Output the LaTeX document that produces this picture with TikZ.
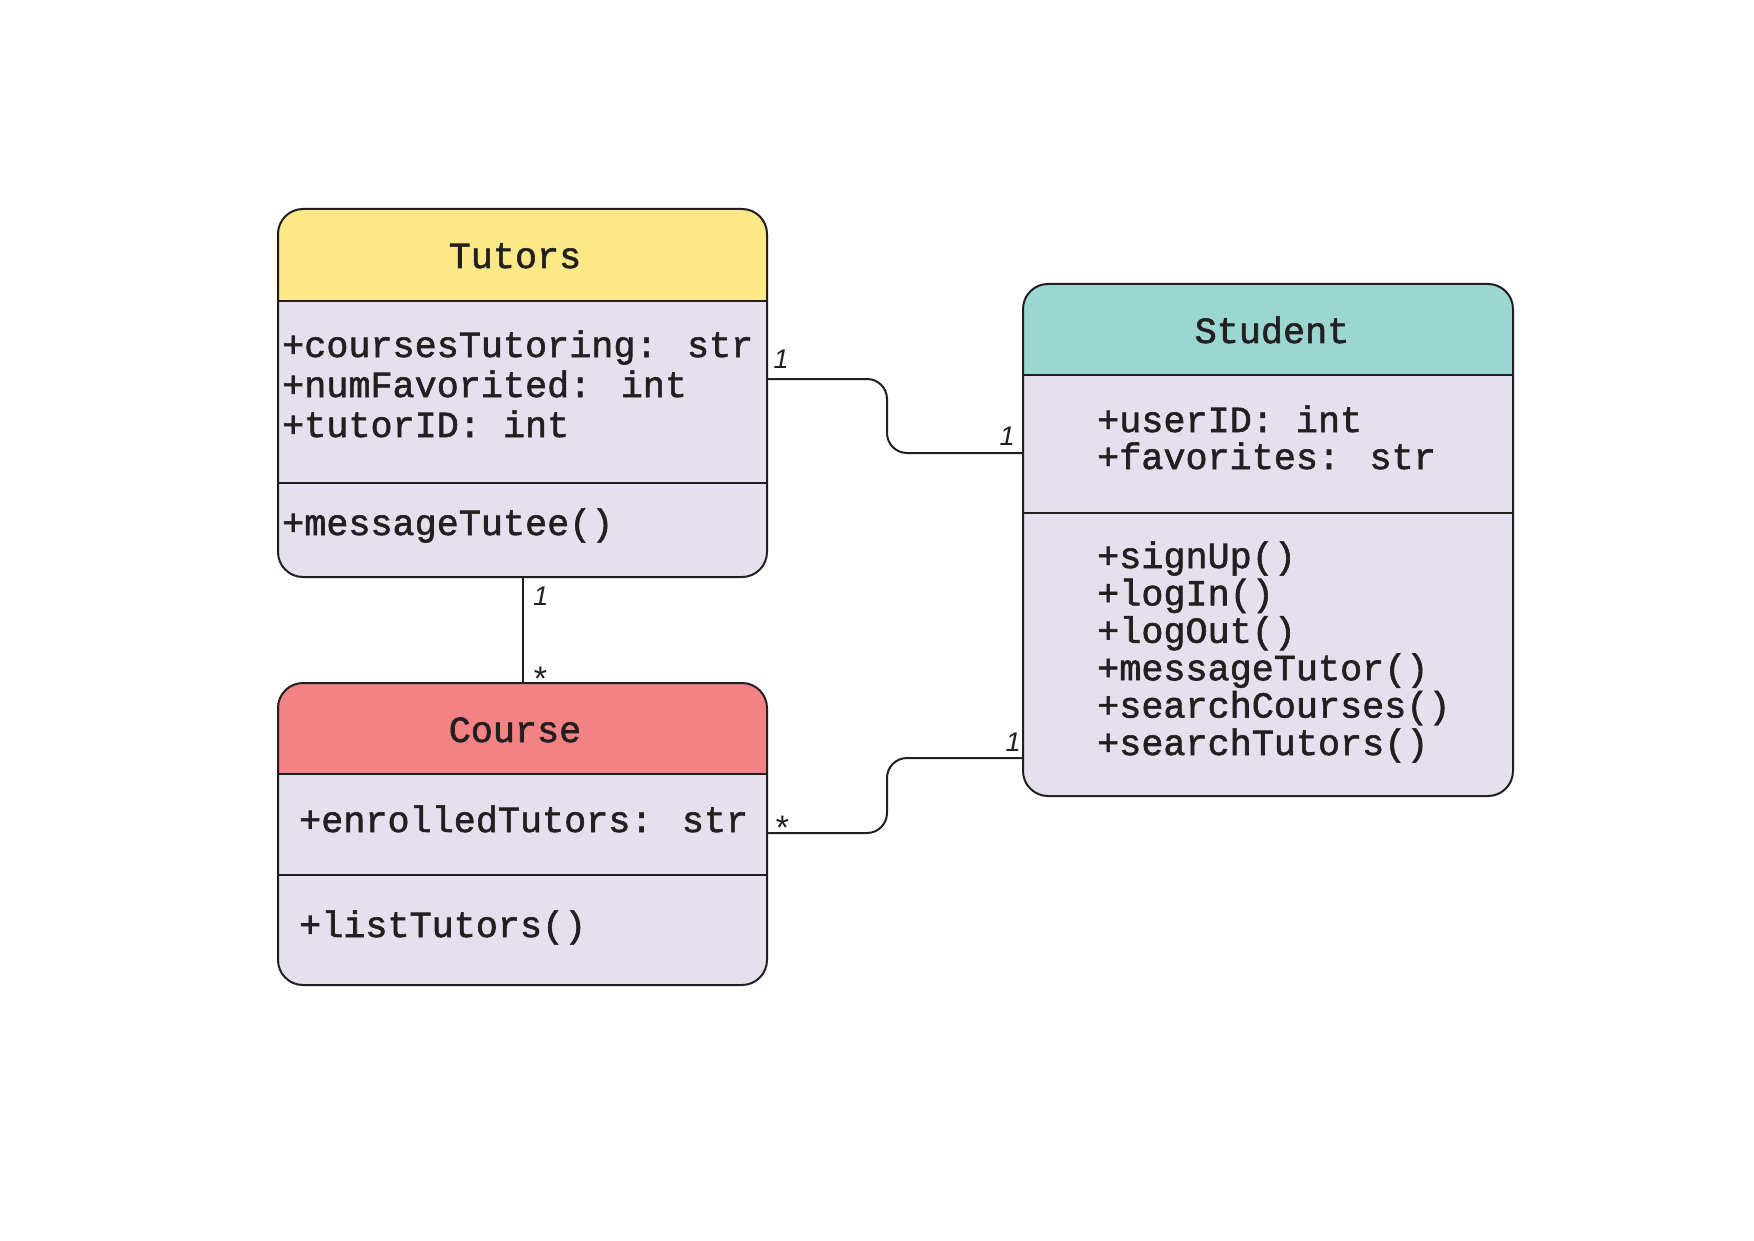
\documentclass[tikz,border=0pt]{standalone}
\usepackage{fontspec}
\newfontfamily\classfont{Liberation Mono}[RawFeature={embolden=1.6}]
\newfontfamily\labelfont{Liberation Sans}
\usetikzlibrary{positioning}
\definecolor{inkgrey}{HTML}{231F20}
\definecolor{bodylilac}{HTML}{E6DFED}
\definecolor{tutorsyellow}{HTML}{FAE986}
\definecolor{studentteal}{HTML}{9AD7D1}
\definecolor{coursered}{HTML}{F28283}

\begin{document}
\begin{tikzpicture}[x=1pt, y=1pt, node distance=10pt,
  classbox/.style={rectangle, rounded corners=25pt, fill=bodylilac, inner sep=0pt, outer sep=0pt},
  boxline/.style={draw=inkgrey, line width=2pt, rounded corners=25pt},
  sepline/.style={draw=inkgrey, line width=2pt},
  mono/.style={font=\fontsize{36.8}{40}\selectfont\classfont, text=inkgrey, inner sep=0pt, align=left, anchor=base west},
  title/.style={font=\fontsize{36.8}{40}\selectfont\classfont, text=inkgrey, inner sep=0pt, anchor=base},
  mult/.style={font=\fontsize{27}{27}\selectfont\labelfont\itshape, text=inkgrey, inner sep=0pt, anchor=base},
  assoc/.style={draw=inkgrey, line width=2pt, rounded corners=20pt}]
  \useasboundingbox (0,0) rectangle (1754,-1241);

  % class boxes
  \node[classbox, minimum width=489pt, minimum height=368pt] (tutors) at (522.5,-393) {};
  \node[classbox, minimum width=489pt, minimum height=302pt, below = 106pt of tutors] (course) {};
  \node[classbox, minimum width=490pt, minimum height=512pt, below right = 75pt and 256pt of tutors.north east] (student) {};

  % headers
  \begin{scope}
    \clip[rounded corners=25pt] (tutors.south west) rectangle (tutors.north east);
    \fill[tutorsyellow] (tutors.north west) rectangle (tutors.east |- 0,-301);
  \end{scope}
  \begin{scope}
    \clip[rounded corners=25pt] (course.south west) rectangle (course.north east);
    \fill[coursered] (course.north west) rectangle (course.east |- 0,-774);
  \end{scope}
  \begin{scope}
    \clip[rounded corners=25pt] (student.south west) rectangle (student.north east);
    \fill[studentteal] (student.north west) rectangle (student.east |- 0,-375);
  \end{scope}

  % separators and outlines
  \draw[sepline] (tutors.west |- 0,-301) -- (tutors.east |- 0,-301);
  \draw[sepline] (tutors.west |- 0,-483) -- (tutors.east |- 0,-483);
  \draw[sepline] (course.west |- 0,-774) -- (course.east |- 0,-774);
  \draw[sepline] (course.west |- 0,-875) -- (course.east |- 0,-875);
  \draw[sepline] (student.west |- 0,-375) -- (student.east |- 0,-375);
  \draw[sepline] (student.west |- 0,-513) -- (student.east |- 0,-513);
  \draw[boxline] (tutors.south west) rectangle (tutors.north east);
  \draw[boxline] (course.south west) rectangle (course.north east);
  \draw[boxline] (student.south west) rectangle (student.north east);

  % texts (base = last line)
  \node[title] (tutorsname) at (515,-268) {Tutors};
  \node[mono] (tutorsattr) at (282,-437) {+coursesTutoring: str\\+numFavorited: int\\+tutorID: int};
  \node[mono] (tutorsop) at (282,-535) {+messageTutee()};
  \node[title] (coursename) at (515,-742) {Course};
  \node[mono] (courseattr) at (299,-832) {+enrolledTutors: str};
  \node[mono] (courseop) at (299,-937) {+listTutors()};
  \node[title] (studentname) at (1272,-343) {Student};
  \node[mono, font=\fontsize{36.8}{37}\selectfont\classfont] (studentattr) at (1097,-469) {+userID: int\\+favorites: str};
  \node[mono, font=\fontsize{36.8}{37.4}\selectfont\classfont] (studentop) at (1097,-755) {+signUp()\\+logIn()\\+logOut()\\+messageTutor()\\+searchCourses()\\+searchTutors()};

  % associations
  \draw[assoc] (tutors.east |- 0,-379) -- (887,-379) -- (887,-453) -- (student.west |- 0,-453);
  \draw[assoc] (tutors) -- (course);
  \draw[assoc] (course.east |- 0,-833) -- (887,-833) -- (887,-758) -- (student.west |- 0,-758);

  % multiplicities
  \node[mult] (m1) at (781,-368) {1};
  \node[mult] (m2) at (1007,-445) {1};
  \node[mult] (m3) at (541,-605) {1};
  \node[mult, font=\fontsize{34}{34}\selectfont\labelfont\itshape] (m4) at (539,-690) {*};
  \node[mult, font=\fontsize{34}{34}\selectfont\labelfont\itshape] (m5) at (781,-839) {*};
  \node[mult] (m6) at (1013,-751) {1};
\end{tikzpicture}
\end{document}
